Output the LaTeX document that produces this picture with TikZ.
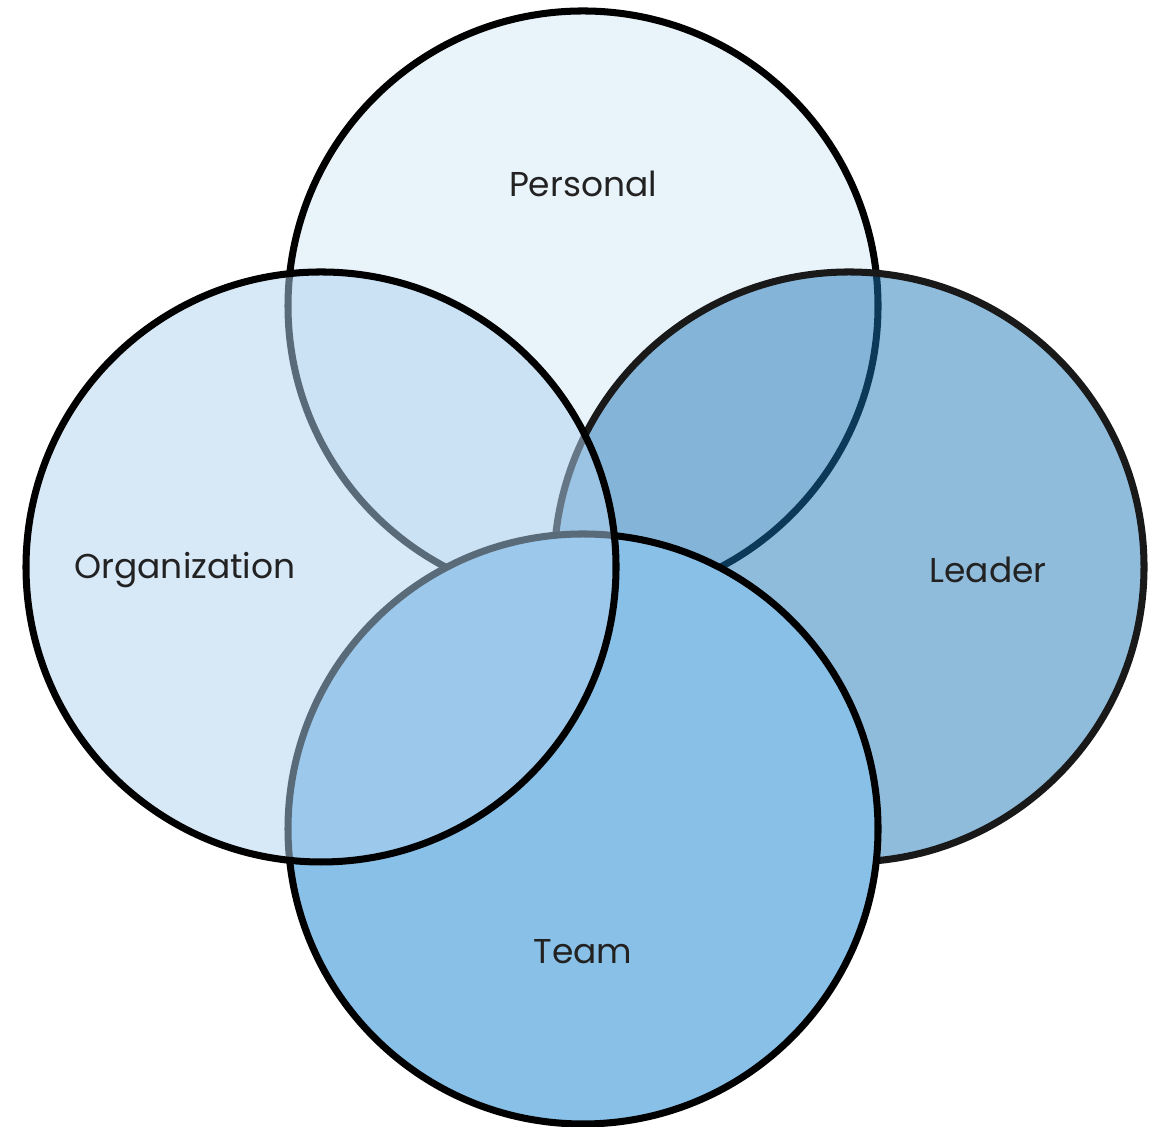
\documentclass[tikz,border=0pt]{standalone}
\usepackage{fontspec}
\setmainfont{Poppins}
\usepackage{xcolor}
\usetikzlibrary{positioning}

\definecolor{personalfill}{RGB}{232,243,250}
\definecolor{leaderfill}{RGB}{28,118,183}
\definecolor{teamfill}{RGB}{136,192,232}
\definecolor{orgfill}{RGB}{176,210,239}
\definecolor{labeltext}{RGB}{34,34,34}

\tikzset{
  set/.style={circle, draw=black, line width=2pt, minimum size=5.9cm, inner sep=0pt},
  setlabel/.style={text=labeltext, font=\fontsize{9.8}{12}\selectfont}
}

\begin{document}
\begin{tikzpicture}
\useasboundingbox (0,0) rectangle (11.61,11.27);
% the four sets, back to front
\node[set, fill=personalfill] (personal) at (5.83,8.21) {};
\node[set, fill=leaderfill, fill opacity=0.49, draw=black!90] (leader) at (8.49,5.60) {};
\node[set, fill=teamfill] (team) at (5.83,2.98) {};
\node[set, fill=orgfill, fill opacity=0.51] (org) at (3.21,5.60) {};

% labels
\node[setlabel] (personallabel) at (5.83,9.43) {Personal};
\node[setlabel] (orglabel) at (1.85,5.57) {Organization};
\node[setlabel] (leaderlabel) at (9.88,5.57) {Leader};
\node[setlabel] (teamlabel) at (5.83,1.75) {Team};
\end{tikzpicture}
\end{document}
